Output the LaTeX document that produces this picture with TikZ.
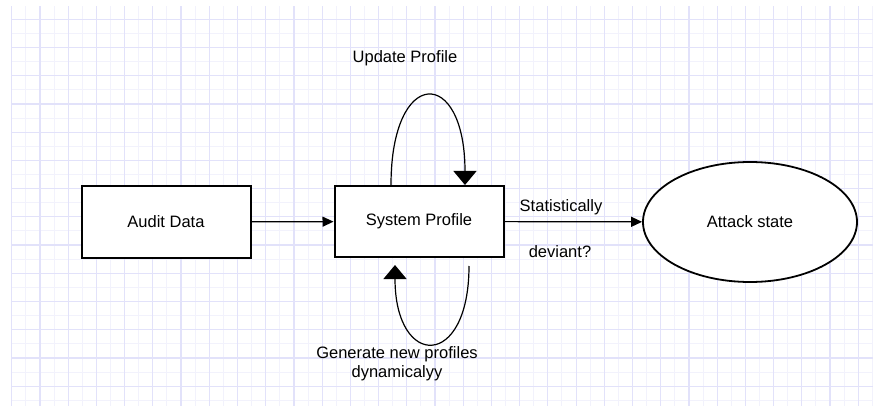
\documentclass[tikz,border=0pt]{standalone}
\usepackage{fontspec}
\setmainfont{Liberation Sans}
\usetikzlibrary{arrows.meta,shapes.geometric}
\definecolor{gridmajor}{RGB}{226,226,250}
\definecolor{gridminor}{RGB}{242,242,252}

\begin{document}
\begin{tikzpicture}[x=1pt,y=1pt,
  every node/.style={font=\fontsize{16.5}{19.5}\selectfont},
  box/.style={draw,line width=2pt,fill=white,minimum width=169pt,minimum height=71pt,inner sep=0pt},
  oval/.style={ellipse,draw,line width=1.8pt,fill=white,minimum width=214pt,minimum height=120pt,inner sep=0pt},
  flow/.style={line width=1.2pt,-{Triangle[length=11pt,width=10pt]}},
  selfloop/.style={line width=1.2pt,-{Triangle[length=14pt,width=23pt]}}]
  \useasboundingbox (0,0) rectangle (873,405);
  \begin{scope}
    \clip (11,0) rectangle (873,398);
    \draw[gridminor,line width=1pt,shift={(11.7,18.84)},step=14.11pt] (-20,-40) grid (880,400);
    \draw[gridmajor,line width=1.2pt,shift={(11.7,18.84)},step=28.22pt] (-20,-40) grid (880,400);
  \end{scope}
  \node[box] (audit) at (166,183) {Audit Data};
  \node[box] (sys) at (419,183.5) {System Profile};
  \node[oval] (att) at (750,183) {Attack state};
  \node (upd) at (405,347) {Update Profile};
  \node (stat) at (561,198) {Statistically};
  \node (dev) at (560,153) {deviant?};
  \node[align=center] (gen) at (397,41.5) {Generate new profiles\\dynamicalyy};
  \draw[flow] (audit) -- (sys);
  \draw[flow] (sys) -- (att);
  \draw[selfloop] ([xshift=-28pt]sys.north) .. controls +(0,119) and +(0,119) .. ([xshift=46pt]sys.north);
  \draw[selfloop] ([xshift=50pt,yshift=-8pt]sys.south) .. controls +(0,-104) and +(0,-104) .. ([xshift=-24pt,yshift=-7pt]sys.south);
\end{tikzpicture}
\end{document}
